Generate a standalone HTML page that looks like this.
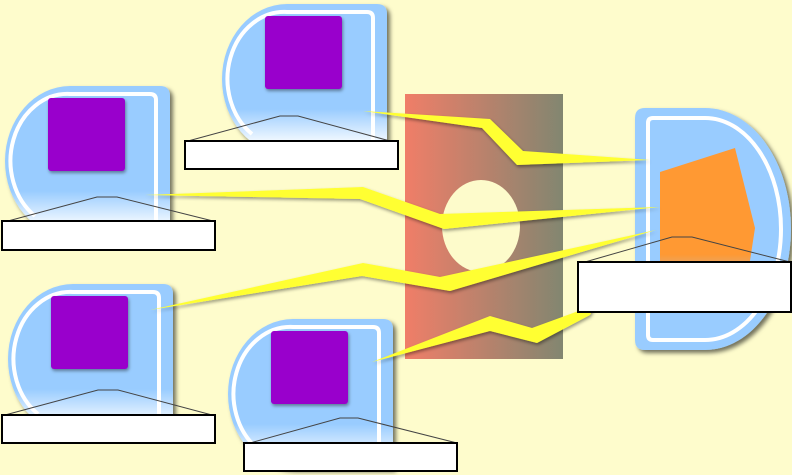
<!DOCTYPE html>
<html><head><meta charset="utf-8"><style>html,body{margin:0;padding:0;background:#fefccc}svg{display:block}</style></head>
<body>
<svg width="792" height="475" viewBox="0 0 792 475" xmlns="http://www.w3.org/2000/svg">
<defs>
<linearGradient id="cg" x1="0" y1="0" x2="0" y2="1">
<stop offset="0" stop-color="#99ccff"/><stop offset="0.7" stop-color="#99ccff"/><stop offset="0.95" stop-color="#ffffff"/>
</linearGradient>
<linearGradient id="rg" x1="0" y1="0" x2="1" y2="0">
<stop offset="0" stop-color="#f07e68"/><stop offset="1" stop-color="#828670"/>
</linearGradient>
<linearGradient id="og" x1="0" y1="0" x2="0" y2="1">
<stop offset="0" stop-color="#ff9933"/><stop offset="0.7" stop-color="#ff9933"/><stop offset="1" stop-color="#ff9933" stop-opacity="0"/>
</linearGradient>
<filter id="sh" x="-10%" y="-10%" width="130%" height="130%"><feDropShadow dx="3" dy="3" stdDeviation="2" flood-color="#000" flood-opacity="0.55"/></filter>
<filter id="sh2"><feDropShadow dx="1" dy="2" stdDeviation="1.5" flood-color="#000" flood-opacity="0.4"/></filter>
<g id="comp">
<path d="M65,0 H155 Q165,0 165,10 V150 H65 A65 75 0 0 1 65,0 Z" fill="url(#cg)" filter="url(#sh)"/>
<path d="M151,150 V14 Q151,8 145,8 H65 A57 67 0 0 0 30,130" fill="none" stroke="#fff" stroke-width="4"/>
<rect x="43" y="12" width="77" height="73" rx="3" fill="#9900cc" filter="url(#sh2)"/>
</g>
</defs>

<rect x="405" y="94" width="158" height="265" fill="url(#rg)"/>
<ellipse cx="481" cy="226" rx="39" ry="46" fill="#fdfbcb"/>

<use href="#comp" x="5" y="86"/>
<use href="#comp" x="222" y="4"/>
<use href="#comp" x="8" y="284"/>
<use href="#comp" x="228" y="319"/>

<path d="M645,108 H705 A86 121 0 0 1 705,350 H645 Q635,350 635,340 V118 Q635,108 645,108 Z" fill="#99ccff" filter="url(#sh)"/>
<path d="M653,118 H705 A76 111 0 0 1 705,340 H653 Q648,340 648,335 V123 Q648,118 653,118 Z" fill="none" stroke="#fff" stroke-width="4"/>
<polygon points="660,172 735,148 755,228 744,300 660,300" fill="url(#og)"/>

<g fill="#ffff33" filter="url(#sh2)">
<polygon points="363,111 490,119 523,151 650,160 517,165 482,128"/>
<polygon points="145,195 363,187 440,214 660,207 444,229 360,199"/>
<polygon points="150,310 363,263 440,277 656,230 450,291 362,276"/>
<polygon points="372,362 490,316 532,328 595,305 590,315 537,343 490,331"/>
</g>

<g fill="none" stroke="#444" stroke-width="1">
<polyline points="8,221 97,197 117,197 213,221"/>
<polyline points="188,141 280,116 298,116 390,141"/>
<polyline points="5,415 98,390 118,390 212,415"/>
<polyline points="250,443 340,418 358,418 457,443"/>
<polyline points="585,262 672,237 692,237 790,262"/>
</g>

<g fill="#fff" stroke="#000" stroke-width="2">
<rect x="2" y="221" width="213" height="29"/>
<rect x="185" y="141" width="213" height="28"/>
<rect x="2" y="415" width="213" height="28"/>
<rect x="244" y="443" width="213" height="28"/>
<rect x="578" y="262" width="213" height="50"/>
</g>
</svg>
</body></html>
